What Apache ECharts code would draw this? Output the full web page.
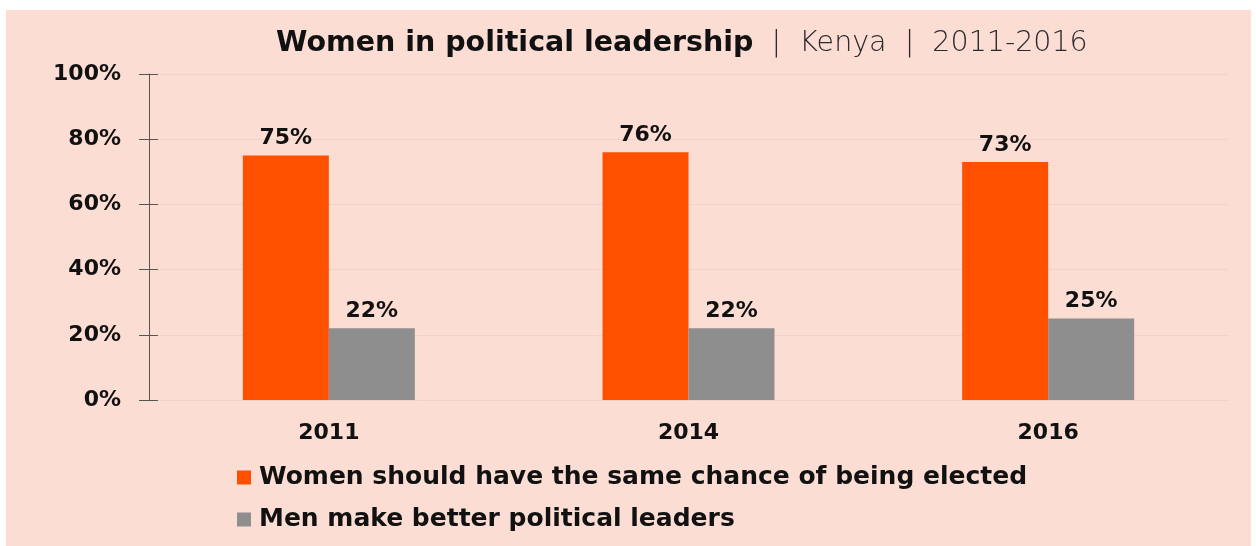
<!DOCTYPE html>
<html><head><meta charset="utf-8">
<script src="https://cdn.jsdelivr.net/npm/echarts@6/dist/echarts.min.js"></script>
<style>html,body{margin:0;padding:0;background:#fff}#c{width:1256px;height:546px}</style>
</head><body><div id="c"></div>
<script>
const categories = ['2011', '2014', '2016'];
const seriesNames = ['Women should have the same chance of being elected', 'Men make better political leaders'];
const sameChance = [75, 76, 73];
const menBetter = [22, 22, 25];
const yTicks = [0, 20, 40, 60, 80, 100];

const chart = echarts.init(document.getElementById('c'), null, {renderer: 'canvas'});
const F = 'DejaVu Sans';
const yAxisBase = {
  type: 'value', min: 0, max: 100, interval: 20, position: 'left',
  splitLine: {show: false}
};
chart.setOption({
  backgroundColor: '#ffffff',
  animation: false,
  graphic: [{
    type: 'rect', z: -10, silent: true,
    shape: {x: 6, y: 10, width: 1245, height: 536},
    style: {fill: '#FCDDD4'}
  }],
  title: {
    left: 271, top: 24,
    text: '{b|Women in political leadership}{l|  |  Kenya  |  2011-2016}',
    textStyle: {
      rich: {
        b: {fontFamily: F, fontWeight: 'bold', fontSize: 28.5, color: '#111'},
        l: {fontFamily: F, fontWeight: 200, fontSize: 28.5, color: '#2a2a2a'}
      }
    }
  },
  legend: {
    orient: 'vertical', left: 232, top: 460, itemGap: 17,
    itemWidth: 14, itemHeight: 14, icon: 'rect',
    textStyle: {fontFamily: F, fontWeight: 'bold', fontSize: 25, color: '#111', padding: [0, 0, 0, 3]},
    data: seriesNames
  },
  grid: {left: 149, top: 74, right: 28, bottom: 146, containLabel: false},
  xAxis: {
    type: 'category', data: categories,
    axisLine: {show: false}, axisTick: {show: false},
    axisLabel: {fontFamily: F, fontWeight: 'bold', fontSize: 22, color: '#111', margin: 22}
  },
  yAxis: [
    Object.assign({}, yAxisBase, {
      axisLine: {show: true, lineStyle: {color: '#555555', width: 1}},
      axisTick: {show: true, length: 10, lineStyle: {color: '#555555'}},
      axisLabel: {
        fontFamily: F, fontWeight: 'bold', fontSize: 22, color: '#111', margin: 28,
        formatter: v => yTicks.includes(v) ? v + '%' : ''
      },
      splitLine: {show: true, lineStyle: {color: '#F3D2C8', width: 1}}
    }),
    Object.assign({}, yAxisBase, {
      axisLine: {show: false},
      axisTick: {show: true, inside: true, length: 9, lineStyle: {color: '#555555'}},
      axisLabel: {show: false}
    })
  ],
  series: [
    {
      name: seriesNames[0], type: 'bar', data: sameChance, yAxisIndex: 0,
      barWidth: 86, barGap: '0%',
      itemStyle: {color: '#FF5000'},
      label: {show: true, position: 'top', distance: 6, formatter: '{c}%',
        fontFamily: F, fontWeight: 'bold', fontSize: 22, color: '#111'}
    },
    {
      name: seriesNames[1], type: 'bar', data: menBetter, yAxisIndex: 0,
      barWidth: 86, barGap: '0%',
      itemStyle: {color: '#8E8E8E'},
      label: {show: true, position: 'top', distance: 6, formatter: '{c}%',
        fontFamily: F, fontWeight: 'bold', fontSize: 22, color: '#111'}
    }
  ]
});
</script></body></html>
